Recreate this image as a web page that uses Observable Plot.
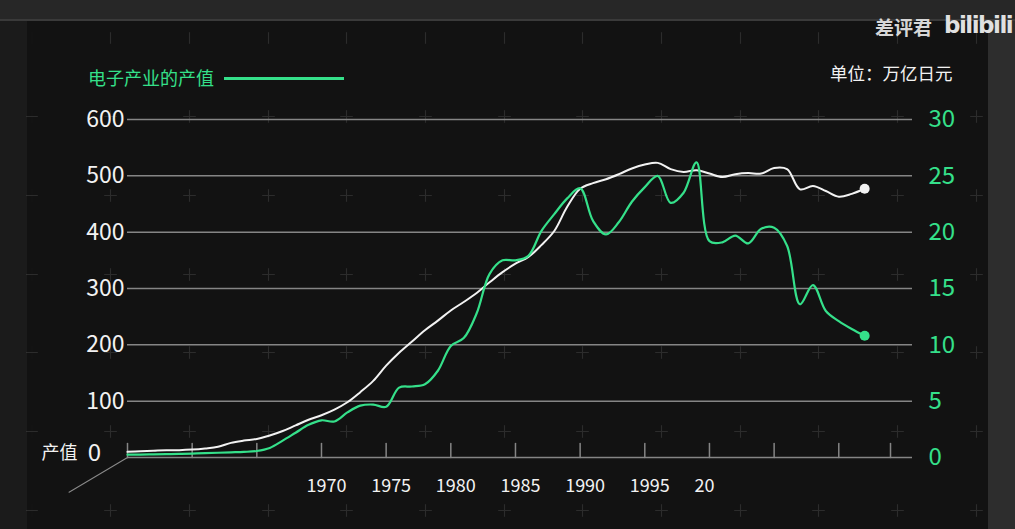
<!DOCTYPE html>
<html>
<head>
<meta charset="utf-8">
<script src="https://cdn.jsdelivr.net/npm/d3@7"></script>
<script src="https://cdn.jsdelivr.net/npm/@observablehq/plot@0.6"></script>
<style>
html,body{margin:0;padding:0;width:1015px;height:529px;overflow:hidden;background:#1b1b1b;font-family:"Noto Sans CJK SC","Noto Sans",sans-serif;}
#top{position:absolute;left:0;top:0;width:1015px;height:19px;background:#272727;border-bottom:2px solid #3a3a3a;}
#panel{position:absolute;left:27px;top:21px;width:961px;height:508px;background:#121212;}
#strip{position:absolute;left:988px;top:21px;width:27px;height:508px;background:#2d2d2d;}
#crosses{position:absolute;left:0;top:21px;width:1015px;height:508px;
  background-image:url("data:image/svg+xml;utf8,<svg xmlns='http://www.w3.org/2000/svg' width='100' height='100' viewBox='0 0 100 100'><path d='M50 42V58M42 50H58' stroke='white' stroke-opacity='0.11' stroke-width='1.3'/></svg>");
  background-size:78.7px 78.7px;background-position:-7.35px -22.35px;}
#chart{position:absolute;left:0;top:0;}
#legend{position:absolute;left:88px;top:66px;color:#35e08a;font-size:18px;line-height:22px;white-space:nowrap;}
#legendLine{position:absolute;left:224px;top:77px;width:120px;height:2.5px;background:#35e08a;}
#unit{position:absolute;left:830px;top:62px;color:#f2f2f2;font-size:17.5px;line-height:22px;white-space:nowrap;}
#mark1{position:absolute;left:875px;top:15px;color:#d6d6d6;font-size:19px;line-height:24px;font-weight:700;white-space:nowrap;}
#mark2{position:absolute;left:944px;top:10px;color:#e0e0e0;font-size:23px;line-height:30px;font-weight:900;font-family:"DejaVu Sans",sans-serif;letter-spacing:-1.5px;white-space:nowrap;}
</style>
</head>
<body>
<div id="top"></div>
<div id="panel"></div>
<div id="strip"></div>
<div id="crosses"></div>
<div id="chart"></div>
<div id="legend">电子产业的产值</div>
<div id="legendLine"></div>
<div id="unit">单位：万亿日元</div>
<div id="mark1">差评君</div>
<div id="mark2">bilibili</div>
<script>
// ---- data ----
const years = [1955,1956,1957,1958,1959,1960,1961,1962,1963,1964,1965,1966,1967,1968,1969,
  1970,1971,1972,1973,1974,1975,1976,1977,1978,1979,1980,1981,1982,1983,1984,
  1985,1986,1987,1988,1989,1990,1991,1992,1993,1994,1995,1996,1997,1998,1999,
  2000,2001,2002,2003,2004,2005,2006,2007,2008,2009,2010,2011,2012];
// white line, left axis (0–600)
const totalOutput = [10,11,12,13,13,14,16,19,26,30,33,39,47,57,67,
  75,85,98,116,136,163,186,206,226,243,261,276,292,311,329,
  344,356,377,402,445,477,487,494,503,513,520,523,512,507,510,
  504,498,503,505,504,514,512,476,482,473,463,468,477];
// green line, right axis (0–30) — 电子产业的产值
const electronicsOutput = [0.25,0.26,0.28,0.3,0.32,0.35,0.38,0.42,0.46,0.5,0.58,0.85,1.5,2.2,2.9,
  3.3,3.2,4.0,4.6,4.7,4.5,6.2,6.3,6.5,7.7,9.9,10.6,12.8,16.3,17.5,
  17.5,17.9,20.1,21.6,23.0,23.9,21.0,19.8,20.9,22.7,24.0,25.0,22.6,23.5,26.2,
  19.2,19.1,19.7,19.0,20.3,20.4,18.8,13.6,15.3,13.0,12.1,11.4,10.8];
const leftTicks = [100,200,300,400,500,600];
const rightTickValues = [0,5,10,15,20,25,30];
const xTickYears = [1955,1960,1965,1970,1975,1980,1985,1990,1995,2000,2005,2010,2014];
const xLabelYears = [1970,1975,1980,1985,1990,1995,2000];
const xLabelText = ["1970","1975","1980","1985","1990","1995","20"];
const baseLabel = [{year: 1955, value: 0, zero: "0", name: "产值"}];

// ---- build ----
const ratio = 600 / 30; // right axis -> left axis scale
const rows = years.map((year, i) => ({year, total: totalOutput[i], elec: electronicsOutput[i] * ratio}));
const last = rows.slice(-1);
const green = "#35e08a";
const white = "#f2f2f2";
const gridColor = "#858585";
const lineShape = {draw(ctx, l) { ctx.moveTo(0, 0); ctx.lineTo(0, -l); }};

const chart = Plot.plot({
  width: 1015,
  height: 529,
  marginLeft: 127,
  marginRight: 103,
  marginTop: 119,
  marginBottom: 72,
  style: {background: "transparent", color: white, fontFamily: '"Noto Sans CJK SC","Noto Sans",sans-serif'},
  x: {domain: [1955, 2015.7], label: null},
  y: {domain: [0, 600], label: null},
  marks: [
    Plot.ruleY(leftTicks, {stroke: gridColor, strokeWidth: 1.5}),
    Plot.ruleY([0], {stroke: gridColor, strokeWidth: 1.5}),
    Plot.vector(xTickYears, {x: d => d, y: () => 0, length: 14, rotate: 0, anchor: "start", shape: lineShape, stroke: gridColor, strokeWidth: 1.5}),
    Plot.axisX(xLabelYears, {tickSize: 0, tickPadding: 22, tickFormat: d => xLabelText[xLabelYears.indexOf(d)], textAnchor: "start", dx: -15, fontSize: 18, fill: white}),
    Plot.axisY(leftTicks, {anchor: "left", tickSize: 0, tickPadding: 3, fontSize: 23, fill: white}),
    Plot.axisY(rightTickValues.map(v => v * ratio), {anchor: "right", tickSize: 0, tickPadding: 16, tickFormat: d => String(d / ratio), fontSize: 24, fill: green}),
    Plot.vector(baseLabel, {x: "year", y: "value", length: 68, rotate: 239.3, anchor: "start", shape: lineShape, stroke: "#8a8a8a", strokeWidth: 1}),
    Plot.text(baseLabel, {x: "year", y: "value", text: "zero", dx: -33, dy: -4, fontSize: 24, fill: white}),
    Plot.text(baseLabel, {x: "year", y: "value", text: "name", dx: -68, dy: -4, fontSize: 18, fill: white}),
    Plot.line(rows, {x: "year", y: "total", stroke: white, strokeWidth: 2, curve: "catmull-rom"}),
    Plot.line(rows, {x: "year", y: "elec", stroke: green, strokeWidth: 2.2, curve: "catmull-rom"}),
    Plot.dot(last, {x: "year", y: "total", r: 5, fill: white}),
    Plot.dot(last, {x: "year", y: "elec", r: 5, fill: green})
  ]
});
document.getElementById("chart").appendChild(chart);
</script>
</body>
</html>
